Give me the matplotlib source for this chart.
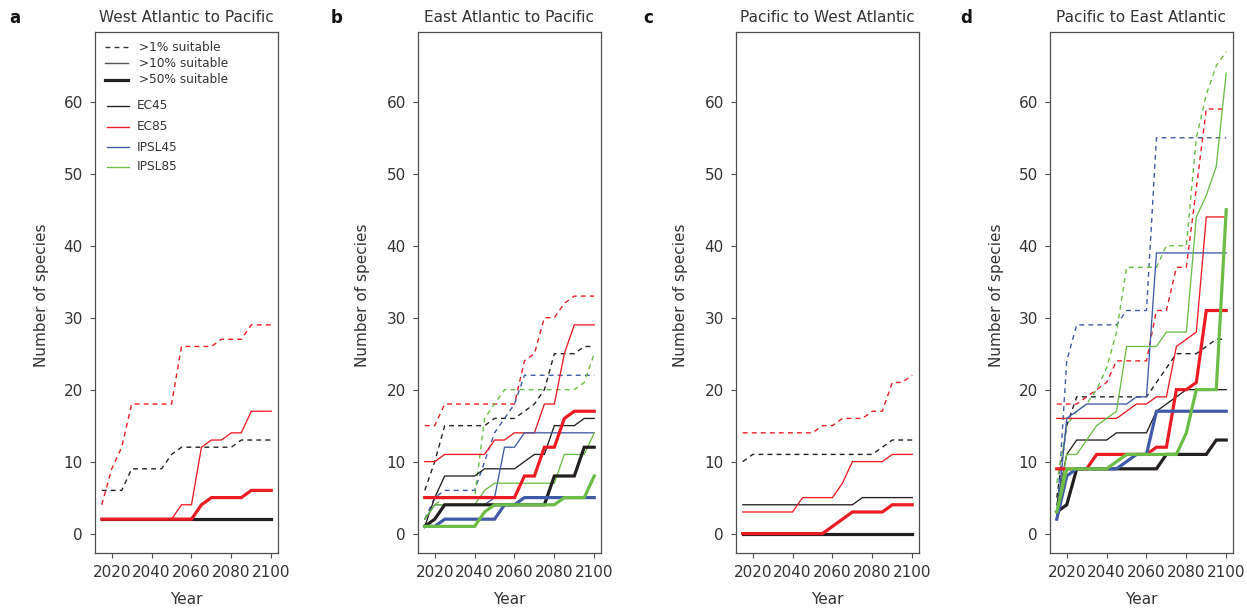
import matplotlib
matplotlib.use("Agg")
import matplotlib.pyplot as plt

# ---------------- data ----------------
years = [2015, 2020, 2025, 2030, 2035, 2040, 2045, 2050, 2055,
         2060, 2065, 2070, 2075, 2080, 2085, 2090, 2095, 2100]

titles = ["West Atlantic to Pacific", "East Atlantic to Pacific",
          "Pacific to West Atlantic", "Pacific to East Atlantic"]
letters = ["a", "b", "c", "d"]
scenarios = ["EC45", "EC85", "IPSL45", "IPSL85"]
thresholds = [">1% suitable", ">10% suitable", ">50% suitable"]
xticks = [2020, 2040, 2060, 2080, 2100]
yticks = [0, 10, 20, 30, 40, 50, 60]

# panel a : West Atlantic to Pacific
a_EC45_1 = [6, 6, 6, 9, 9, 9, 9, 11, 12, 12, 12, 12, 12, 12, 13, 13, 13, 13]
a_EC85_1 = [4, 9, 12, 18, 18, 18, 18, 18, 26, 26, 26, 26, 27, 27, 27, 29, 29, 29]
a_EC45_10 = [2, 2, 2, 2, 2, 2, 2, 2, 2, 2, 2, 2, 2, 2, 2, 2, 2, 2]
a_EC85_10 = [2, 2, 2, 2, 2, 2, 2, 2, 4, 4, 12, 13, 13, 14, 14, 17, 17, 17]
a_EC45_50 = [2, 2, 2, 2, 2, 2, 2, 2, 2, 2, 2, 2, 2, 2, 2, 2, 2, 2]
a_EC85_50 = [2, 2, 2, 2, 2, 2, 2, 2, 2, 2, 4, 5, 5, 5, 5, 6, 6, 6]

# panel b : East Atlantic to Pacific
b_EC45_1 = [6, 10, 15, 15, 15, 15, 15, 16, 16, 16, 17, 18, 20, 25, 25, 25, 26, 26]
b_EC85_1 = [15, 15, 18, 18, 18, 18, 18, 18, 18, 18, 24, 25, 30, 30, 32, 33, 33, 33]
b_IPSL45_1 = [2, 5, 6, 6, 6, 6, 10, 14, 16, 18, 22, 22, 22, 22, 22, 22, 22, 22]
b_IPSL85_1 = [2, 4, 5, 5, 5, 5, 16, 18, 20, 20, 20, 20, 20, 20, 20, 20, 21, 25]
b_EC45_10 = [1, 5, 8, 8, 8, 8, 9, 9, 9, 9, 10, 11, 11, 15, 15, 15, 16, 16]
b_EC85_10 = [10, 10, 11, 11, 11, 11, 11, 13, 13, 14, 14, 14, 18, 18, 25, 29, 29, 29]
b_IPSL45_10 = [2, 4, 4, 4, 4, 4, 4, 5, 12, 12, 14, 14, 14, 14, 14, 14, 14, 14]
b_IPSL85_10 = [2, 4, 4, 4, 4, 4, 6, 7, 7, 7, 7, 7, 7, 7, 11, 11, 11, 14]
b_EC45_50 = [1, 2, 4, 4, 4, 4, 4, 4, 4, 4, 4, 4, 4, 8, 8, 8, 12, 12]
b_EC85_50 = [5, 5, 5, 5, 5, 5, 5, 5, 5, 5, 8, 8, 12, 12, 16, 17, 17, 17]
b_IPSL45_50 = [1, 1, 2, 2, 2, 2, 2, 2, 4, 4, 5, 5, 5, 5, 5, 5, 5, 5]
b_IPSL85_50 = [1, 1, 1, 1, 1, 1, 3, 4, 4, 4, 4, 4, 4, 4, 5, 5, 5, 8]

# panel c : Pacific to West Atlantic
c_EC45_1 = [10, 11, 11, 11, 11, 11, 11, 11, 11, 11, 11, 11, 11, 11, 12, 13, 13, 13]
c_EC85_1 = [14, 14, 14, 14, 14, 14, 14, 14, 15, 15, 16, 16, 16, 17, 17, 21, 21, 22]
c_EC45_10 = [4, 4, 4, 4, 4, 4, 4, 4, 4, 4, 4, 4, 5, 5, 5, 5, 5, 5]
c_EC85_10 = [3, 3, 3, 3, 3, 3, 5, 5, 5, 5, 7, 10, 10, 10, 10, 11, 11, 11]
c_EC45_50 = [0, 0, 0, 0, 0, 0, 0, 0, 0, 0, 0, 0, 0, 0, 0, 0, 0, 0]
c_EC85_50 = [0, 0, 0, 0, 0, 0, 0, 0, 0, 1, 2, 3, 3, 3, 3, 4, 4, 4]

# panel d : Pacific to East Atlantic
d_EC45_1 = [5, 15, 19, 19, 19, 19, 19, 19, 19, 19, 21, 23, 25, 25, 25, 26, 27, 27]
d_EC85_1 = [18, 18, 18, 19, 20, 21, 24, 24, 24, 24, 31, 31, 37, 37, 48, 59, 59, 59]
d_IPSL45_1 = [2, 24, 29, 29, 29, 29, 29, 31, 31, 31, 55, 55, 55, 55, 55, 55, 55, 55]
d_IPSL85_1 = [7, 15, 17, 18, 20, 23, 28, 37, 37, 37, 37, 40, 40, 40, 55, 61, 65, 67]
d_EC45_10 = [4, 11, 13, 13, 13, 13, 14, 14, 14, 14, 17, 18, 19, 20, 20, 20, 20, 20]
d_EC85_10 = [16, 16, 16, 16, 16, 16, 16, 17, 18, 18, 19, 19, 26, 27, 28, 44, 44, 44]
d_IPSL45_10 = [2, 16, 17, 18, 18, 18, 18, 18, 19, 19, 39, 39, 39, 39, 39, 39, 39, 39]
d_IPSL85_10 = [3, 11, 11, 13, 15, 16, 17, 26, 26, 26, 26, 28, 28, 28, 44, 47, 51, 64]
d_EC45_50 = [3, 4, 9, 9, 9, 9, 9, 9, 9, 9, 9, 11, 11, 11, 11, 11, 13, 13]
d_EC85_50 = [9, 9, 9, 9, 11, 11, 11, 11, 11, 11, 12, 12, 20, 20, 21, 31, 31, 31]
d_IPSL45_50 = [2, 8, 9, 9, 9, 9, 9, 10, 11, 11, 17, 17, 17, 17, 17, 17, 17, 17]
d_IPSL85_50 = [3, 9, 9, 9, 9, 9, 10, 11, 11, 11, 11, 11, 11, 14, 20, 20, 20, 45]

panels = [
    {"1": {"EC45": a_EC45_1, "EC85": a_EC85_1},
     "10": {"EC45": a_EC45_10, "EC85": a_EC85_10},
     "50": {"EC45": a_EC45_50, "EC85": a_EC85_50}},
    {"1": {"EC45": b_EC45_1, "EC85": b_EC85_1, "IPSL45": b_IPSL45_1, "IPSL85": b_IPSL85_1},
     "10": {"EC45": b_EC45_10, "EC85": b_EC85_10, "IPSL45": b_IPSL45_10, "IPSL85": b_IPSL85_10},
     "50": {"EC45": b_EC45_50, "EC85": b_EC85_50, "IPSL45": b_IPSL45_50, "IPSL85": b_IPSL85_50}},
    {"1": {"EC45": c_EC45_1, "EC85": c_EC85_1},
     "10": {"EC45": c_EC45_10, "EC85": c_EC85_10},
     "50": {"EC45": c_EC45_50, "EC85": c_EC85_50}},
    {"1": {"EC45": d_EC45_1, "EC85": d_EC85_1, "IPSL45": d_IPSL45_1, "IPSL85": d_IPSL85_1},
     "10": {"EC45": d_EC45_10, "EC85": d_EC85_10, "IPSL45": d_IPSL45_10, "IPSL85": d_IPSL85_10},
     "50": {"EC45": d_EC45_50, "EC85": d_EC85_50, "IPSL45": d_IPSL45_50, "IPSL85": d_IPSL85_50}},
]

# ---------------- style ----------------
colors = {"EC45": "#231f20", "EC85": "#ed1c24", "IPSL45": "#3f5aa8", "IPSL85": "#6cbd45"}
styles = {"1": dict(lw=1.0, ls=(0, (3.5, 3))),
          "10": dict(lw=0.95, ls="-"),
          "50": dict(lw=2.3, ls="-")}
TXT = "#333333"
SPINE = "#4d4d4d"

plt.rcParams["font.family"] = ["DejaVu Sans"]

W, H = 1247, 610
fig = plt.figure(figsize=(W / 100, H / 100), dpi=100)


def fx(px):
    return px / W


def fy(py):
    return 1 - py / H


lefts = [95, 418, 736, 1050]
ylab_x = [42, 362, 681, 997]
letter_x = [15, 337, 648, 966]
top, bottom, width = 32, 553, 183

for i, data in enumerate(panels):
    ax = fig.add_axes([fx(lefts[i]), fy(bottom), width / W, (bottom - top) / H])
    for th in ["1", "10", "50"]:
        for sc in scenarios:
            if sc in data[th]:
                ax.plot(years, data[th][sc], color=colors[sc],
                        solid_joinstyle="miter", **styles[th])
    ax.set_xlim(2011.6, 2103.4)
    ax.set_ylim(-2.7, 69.7)
    ax.set_xticks(xticks)
    ax.set_yticks(yticks)
    ax.tick_params(direction="out", length=3.8, width=0.8, color=SPINE,
                   labelsize=11, labelcolor=TXT)
    ax.tick_params(axis="x", pad=4.5)
    ax.tick_params(axis="y", pad=5)
    for s in ax.spines.values():
        s.set_color(SPINE)
        s.set_linewidth(0.9)
    cx = lefts[i] + width / 2
    fig.text(fx(cx), fy(18), titles[i], ha="center", va="center",
             fontsize=11, color=TXT)
    fig.text(fx(letter_x[i]), fy(18), letters[i], ha="center", va="center",
             fontsize=12, fontweight="bold", color="#111111")
    fig.text(fx(ylab_x[i]), fy(295), "Number of species", rotation=90,
             ha="center", va="center", fontsize=11, color=TXT)
    fig.text(fx(cx), fy(599), "Year", ha="center", va="center",
             fontsize=11, color=TXT)

    if i == 0:
        # legend
        leg_th_y = [0.971, 0.940, 0.908]
        th_style = [dict(color="#333333", lw=1.0, ls=(0, (3.5, 3))),
                    dict(color="#555555", lw=1.0, ls="-"),
                    dict(color="#222222", lw=2.3, ls="-")]
        for yy, lab, st in zip(leg_th_y, thresholds, th_style):
            ax.plot([0.055, 0.18], [yy, yy], transform=ax.transAxes,
                    clip_on=False, **st)
            ax.text(0.24, yy, lab, transform=ax.transAxes, ha="left",
                    va="center", fontsize=8.7, color=TXT)
        leg_sc_y = [0.858, 0.818, 0.779, 0.741]
        for yy, sc in zip(leg_sc_y, scenarios):
            ax.plot([0.065, 0.186], [yy, yy], transform=ax.transAxes,
                    clip_on=False, color=colors[sc], lw=0.95)
            ax.text(0.23, yy, sc, transform=ax.transAxes, ha="left",
                    va="center", fontsize=8.7, color=TXT)

fig.savefig("out.png", dpi=100)
